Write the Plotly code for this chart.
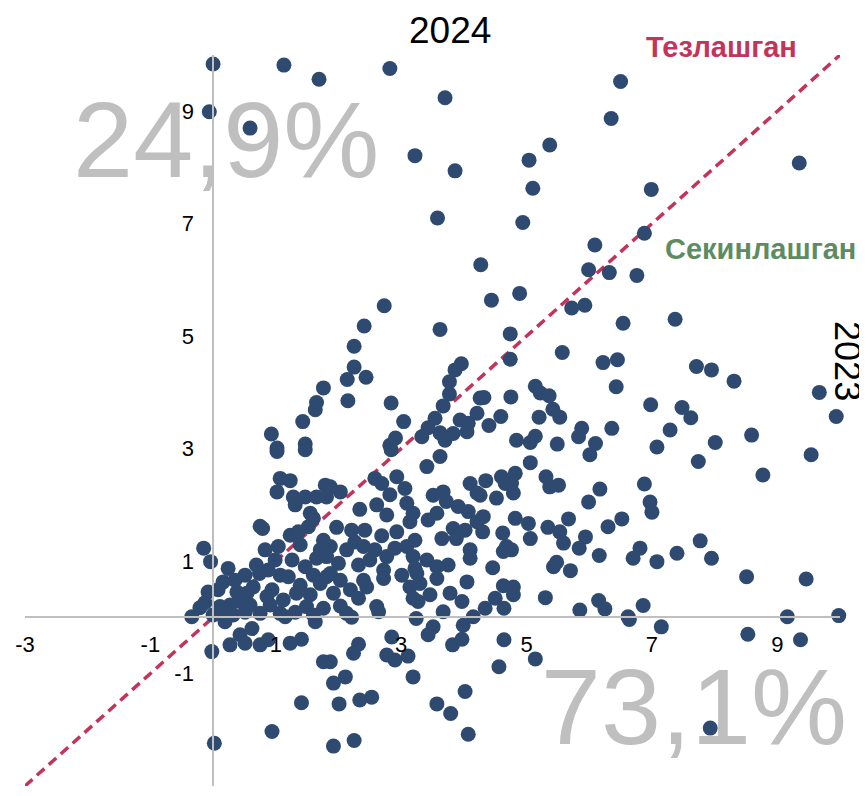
import plotly.graph_objects as go

# Growth 2023 (x) vs 2024 (y), percent
x2023 = [
    0.00, 1.13, -0.06, 0.59, 1.69, 2.82, 3.70, 3.22, 3.86, 5.04, 5.37, 5.10, 3.58, 4.94, 4.27, 6.09, 5.99, 6.50, 6.35, 9.35,
    6.99, 6.88, 6.32, 6.76, 1.76, 1.65, 1.63, 1.43, 0.93, 1.02, 1.47, 2.73, 2.41, 2.25, 2.25, 2.14, 2.44, 2.15, 3.62, 3.96,
    3.86, 3.77, 3.77, 2.84, 3.04, 2.91, 2.82, 3.33, 3.62, 3.70, 3.94, 4.07, 4.21, 4.26, 4.05, 3.83, 3.67, 3.54, 3.43, 4.44,
    4.89, 5.72, 5.93, 6.54, 7.37, 4.74, 4.74, 5.57, 6.22, 6.45, 7.71, 7.95, 8.31, 6.43, 5.14, 5.22, 5.36, 5.42, 5.53, 5.20,
    4.75, 4.32, 4.59, 4.40, 6.98, 7.48, 7.62, 9.67, 9.94, 7.29, 8.59, 6.36, 5.88, 5.83, 5.14, 5.06, 4.84, 5.49, 6.10, 7.08,
    8.01, 9.54, 8.77, 7.74, 6.01, 5.06, 4.35, 4.60, 4.82, 4.66, 4.76, 4.79, 4.52, 4.26, 5.31, 5.37, 5.51, 6.17, 5.99, 6.88,
    6.97, 7.00, 4.31, 4.82, 5.03, 4.30, 4.62, 5.06, 5.34, 5.53, 5.67, 5.59, 5.94, 5.84, 6.30, 6.52, 4.68, 4.76, 4.63, 6.16,
    5.48, 5.43, 5.70, 4.46, 6.81, 6.70, 7.08, 7.40, 7.77, 7.95, 8.51, 9.46, 4.63, 4.79, 4.79, 4.50, 4.64, 4.34, 5.30, 5.85,
    6.15, 6.25, 6.86, 6.62, 9.16, 9.98, 6.64, 7.15, 8.53, 9.37, 7.93, 2.13, 2.21, 2.64, 3.24, 3.67, 3.99, 3.51, 3.43, 3.97,
    3.82, 2.32, 2.24, 2.85, 2.77, 2.90, 3.11, 3.19, 1.87, 1.92, 2.11, 2.01, 2.34, 2.53, 3.57, 3.79, 4.02, 4.07, 1.92, 2.25,
    4.64, 4.56, 5.14, -0.34, 0.62, 0.43, 0.27, 0.51, 0.75, 0.88, 1.23, 1.41, -0.02, 1.76, 1.41, 0.94, 0.02, 1.63, 1.02, 1.47,
    1.07, 1.23, 1.02, 1.28, 1.31, 1.47, 1.65, 1.79, 1.81, 1.55, 1.60, 1.52, 0.75, 0.79, 1.23, 1.36, 1.76, 1.04, 0.83, -0.15,
    -0.04, 0.24, 0.16, 0.35, 0.69, 0.74, 1.07, 1.20, 1.47, 1.65, 1.71, 1.60, 1.71, 1.33, 1.12, 0.86, 0.64, 0.54, 0.43, 0.27,
    0.11, -0.13, 0.00, 0.32, 0.75, 1.07, 1.49, 1.60, 1.76, 1.81, 1.81, 0.51, 0.91, 1.31, 2.03, 1.15, -0.21, 0.19, -0.08, 2.84,
    3.62, 3.41, 2.93, 2.58, 2.69, 3.06, 2.82, 2.03, 1.87, 4.10, 4.21, 3.51, 3.67, 3.72, 3.91, 4.07, 4.21, 3.09, 2.61, 2.34,
    2.77, 3.19, 3.14, 3.57, 3.43, 1.97, 2.21, 2.42, 2.69, 2.93, 3.22, 3.65, 3.83, 4.02, 3.88, 4.10, 4.10, 1.87, 2.26, 2.13,
    2.40, 2.58, 2.77, 2.90, 3.09, 3.19, 3.41, 3.75, 3.57, 3.22, 2.00, 2.32, 2.50, 2.72, 1.87, 2.03, 2.40, 2.72, 3.01, 3.25,
    3.57, 3.30, 3.14, 3.46, 3.19, 3.27, 3.78, 3.97, 4.05, 2.19, 2.45, 2.32, 2.61, 4.15, 1.92, 0.59, 0.94, 1.39, 1.55, 1.26,
    0.99, 0.88, 1.39, 0.51, 0.38, 0.08, 0.14,
]
y2024 = [
    9.84, 9.82, 8.99, 8.70, 9.57, 9.76, 9.24, 8.21, 7.94, 8.13, 8.40, 7.63, 7.10, 7.02, 6.27, 6.62, 6.18, 9.53, 8.87, 8.08,
    7.61, 6.83, 6.13, 6.08, 4.08, 3.82, 3.69, 3.48, 3.26, 3.01, 3.08, 5.54, 5.18, 4.82, 4.45, 4.23, 4.27, 3.85, 5.12, 4.51,
    4.40, 4.19, 3.97, 3.81, 3.48, 3.19, 3.06, 3.21, 3.28, 3.15, 3.51, 3.45, 3.63, 3.90, 3.30, 3.27, 3.76, 3.54, 3.37, 5.64,
    5.76, 5.50, 5.55, 5.23, 5.30, 5.04, 4.59, 4.71, 4.53, 4.58, 4.46, 4.40, 4.20, 4.10, 4.11, 3.99, 3.94, 3.70, 3.56, 3.56,
    3.92, 3.91, 3.57, 3.41, 3.78, 3.73, 3.55, 4.00, 3.57, 3.33, 3.24, 3.36, 3.36, 3.21, 3.22, 3.11, 3.15, 3.08, 3.09, 3.03,
    3.11, 2.89, 2.53, 2.77, 2.89, 2.75, 2.43, 2.50, 2.56, 2.38, 2.38, 2.21, 2.12, 2.17, 2.50, 2.32, 2.35, 2.28, 2.05, 2.37,
    2.05, 1.87, 1.79, 1.76, 1.67, 1.52, 1.50, 1.40, 1.60, 1.52, 1.75, 1.32, 1.43, 1.23, 1.61, 1.75, 1.26, 1.20, 1.17, 1.10,
    0.98, 0.90, 0.83, 0.88, 1.23, 1.05, 0.99, 1.14, 1.36, 1.05, 0.72, 0.68, 0.56, 0.54, 0.40, 0.34, 0.16, 0.16, 0.35, 0.13,
    0.30, 0.15, 0.21, 0.01, 0.01, 0.03, -0.04, -0.17, -0.30, -0.40, -1.97, 0.07, 0.00, 0.10, -0.02, 0.10, -0.14, -0.17, -0.31, -0.39,
    -0.49, -0.48, -0.64, -0.35, -0.67, -0.76, -0.69, -1.06, -0.79, -1.17, -1.06, -1.54, -1.47, -1.42, -1.54, -1.71, -1.32, -2.08, -2.29, -2.19,
    -0.40, -0.88, -0.74, 0.01, -0.20, -0.31, -0.49, -0.46, -0.49, -0.40, -0.46, -0.39, -0.61, -0.79, -1.52, -2.03, -2.24, -0.08, 2.95, 2.98,
    2.47, 2.43, 2.23, 2.14, 2.00, 2.14, 2.14, 2.35, 2.14, 1.85, 1.76, 1.61, 1.62, 1.58, 1.46, 1.52, 1.37, 1.26, 1.20, 1.23,
    0.99, 0.87, 0.63, 0.66, 0.93, 0.78, 0.75, 0.72, 0.90, 1.05, 1.20, 0.75, 0.60, 0.43, 0.31, 0.37, 0.54, 0.43, 0.28, 0.22,
    0.19, 0.26, 0.04, 0.04, 0.07, 0.07, 0.19, 0.04, 0.16, 1.08, 0.72, 0.09, 0.22, 0.09, 0.20, 0.01, 0.17, -0.08, 0.45, 2.98,
    2.86, 2.68, 2.50, 2.47, 2.38, 2.29, 2.18, 2.23, 2.32, 2.38, 2.21, 2.17, 2.23, 2.06, 1.97, 1.88, 1.70, 2.03, 2.00, 1.92,
    1.82, 1.85, 1.70, 1.85, 1.73, 1.60, 1.55, 1.55, 1.45, 1.52, 1.37, 1.40, 1.58, 1.55, 1.40, 1.20, 1.05, 1.26, 1.34, 1.20,
    1.26, 1.20, 1.08, 1.23, 1.26, 1.08, 1.02, 0.93, 0.90, 0.87, 0.96, 0.93, 1.02, 0.84, 0.78, 0.66, 0.66, 0.69, 0.75, 0.78,
    0.69, 0.60, 0.54, 0.40, 0.34, 0.28, 0.43, 0.28, 0.63, 0.49, 0.54, 0.34, 0.19, 0.01, 0.43, 0.22, 0.49, 0.57, 0.40, 1.02,
    1.02, 0.84, 1.29, 0.75, 0.45, 0.49, 0.09,
]

axis_range = [-3, 10]
diag = [-3, 10]
tick_vals = [-3, -1, 1, 3, 5, 7, 9]
tick_text = ["-3", "-1", "1", "3", "5", "7", "9"]
share_up = "24,9%"
share_down = "73,1%"
label_up = "Тезлашган"
label_down = "Секинлашган"
title_x = "2023"
title_y = "2024"

FONT = "Liberation Sans, Arial, sans-serif"
DOT = "#2E4A70"
RED = "#C4345A"
GREEN = "#5E8B62"
GREY = "#BFBFBF"

fig = go.Figure()

# big share texts (under the dots)
fig.add_trace(go.Scatter(
    x=[0.21, 7.67], y=[8.31, -1.77], text=[share_up, share_down],
    mode="text", textposition="middle center",
    textfont=dict(family=FONT, size=108, color=GREY),
    hoverinfo="skip", showlegend=False, cliponaxis=False,
))

# diagonal y = x
fig.add_trace(go.Scatter(
    x=diag, y=diag, mode="lines",
    line=dict(color=RED, width=3.5, dash="10px,6px"),
    hoverinfo="skip", showlegend=False,
))

fig.add_trace(go.Scatter(
    x=x2023, y=y2024, mode="markers",
    marker=dict(size=15, color=DOT, line=dict(width=0)),
    showlegend=False, cliponaxis=False,
))

pos0 = (0 - axis_range[0]) / (axis_range[1] - axis_range[0])

# the page body has an 8px margin; figure is sized so the plot area sits where the reference has it
fig.update_layout(
    width=859, height=788,
    margin=dict(l=17, r=27, t=47, b=10, autoexpand=False),
    paper_bgcolor="white", plot_bgcolor="white",
    font=dict(family=FONT, size=22, color="black"),
    xaxis=dict(
        range=axis_range, tickvals=tick_vals, ticktext=tick_text,
        showgrid=False, zeroline=False, showline=True, linecolor=GREY, linewidth=1.5,
        ticks="", anchor="free", position=pos0, ticklabelstandoff=8, automargin=False,
        tickfont=dict(family=FONT, size=22, color="black"),
    ),
    yaxis=dict(
        range=axis_range, tickvals=tick_vals, ticktext=tick_text,
        showgrid=False, zeroline=False, showline=True, linecolor=GREY, linewidth=1.5,
        ticks="", anchor="free", position=pos0, ticklabelstandoff=14, automargin=False,
        tickfont=dict(family=FONT, size=22, color="black"),
    ),
    annotations=[
        dict(text=title_y, xref="paper", yref="paper", x=0.5215, y=1.034,
             xanchor="center", yanchor="middle", showarrow=False,
             font=dict(family=FONT, size=37, color="black")),
        dict(text=title_x, xref="paper", yref="paper", x=1.0085, y=0.5814,
             xanchor="center", yanchor="middle", showarrow=False, textangle=90,
             font=dict(family=FONT, size=36, color="black")),
        dict(text="<b>" + label_up + "</b>", xref="paper", yref="paper", x=0.855, y=1.011,
             xanchor="center", yanchor="middle", showarrow=False,
             font=dict(family=FONT, size=29, color=RED)),
        dict(text="<b>" + label_down + "</b>", xref="paper", yref="paper", x=0.903, y=0.7346,
             xanchor="center", yanchor="middle", showarrow=False,
             font=dict(family=FONT, size=29, color=GREEN)),
    ],
)

fig.write_html("out.html")
